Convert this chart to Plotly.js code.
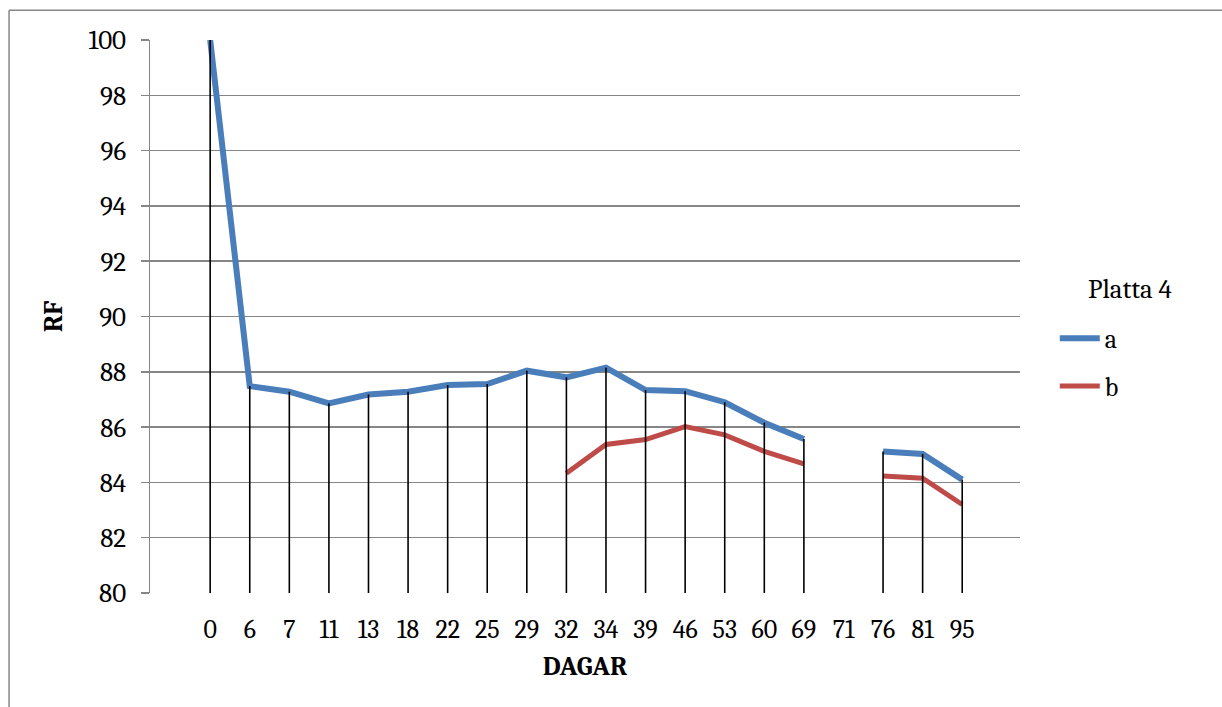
<!DOCTYPE html>
<html>
<head>
<meta charset="utf-8">
<script src="https://cdn.plot.ly/plotly-3.0.1.min.js"></script>
<style>
  html, body { margin: 0; padding: 0; background: #ffffff; }
  #chart { width: 1222px; height: 707px; }
</style>
</head>
<body>
<div id="chart"></div>
<script>
const days = ["0","6","7","11","13","18","22","25","29","32","34","39","46","53","60","69","71","76","81","95"];
const seriesA = [100, 87.48, 87.28, 86.86, 87.18, 87.28, 87.52, 87.56, 88.04, 87.8, 88.15, 87.34, 87.3, 86.9, 86.16, 85.57, null, 85.12, 85.03, 84.1];
const seriesB = [null, null, null, null, null, null, null, null, null, 84.33, 85.37, 85.55, 86.02, 85.72, 85.12, 84.67, null, 84.23, 84.15, 83.2];
const seriesNames = ["a", "b"];
const legendTitle = "Platta 4";
const xTitle = "DAGAR";
const yTitle = "RF";
const yMin = 80, yMax = 100;

const FONT = "Cambria, 'Liberation Serif', 'DejaVu Serif', serif";

// Drop lines: from axis minimum up to the highest value at each category
const dropX = [], dropY = [];
days.forEach((d, i) => {
  const vals = [seriesA[i], seriesB[i]].filter(v => v !== null);
  if (vals.length) {
    dropX.push(d, d, null);
    dropY.push(yMin, Math.max(...vals), null);
  }
});

const traces = [
  {
    x: days, y: seriesA, name: seriesNames[0], legendgroup: "ga", type: "scatter", mode: "lines",
    line: { color: "#4A7EBB", width: 6 }, connectgaps: false
  },
  {
    x: days, y: seriesB, name: seriesNames[1], legendgroup: "gb", type: "scatter", mode: "lines",
    line: { color: "#BE4B48", width: 5 }, connectgaps: false
  },
  {
    x: dropX, y: dropY, type: "scatter", mode: "lines", showlegend: false,
    hoverinfo: "skip", line: { color: "#000000", width: 1.6 }
  }
];

const layout = {
  width: 1222, height: 707,
  paper_bgcolor: "#ffffff", plot_bgcolor: "#ffffff",
  margin: { l: 150, r: 202, t: 40, b: 114 },
  font: { family: FONT, color: "#000000", size: 24 },
  showlegend: true,
  legend: {
    x: 1.04, xanchor: "left", y: 0.503, yanchor: "top",
    font: { family: FONT, size: 26 },
    tracegroupgap: 11, itemwidth: 40,
    bgcolor: "rgba(0,0,0,0)"
  },
  annotations: [
    { text: legendTitle, xref: "paper", yref: "paper", x: 1.126, y: 0.548,
      xanchor: "center", yanchor: "middle", showarrow: false,
      font: { family: FONT, size: 27, color: "#000000" } }
  ],
  xaxis: {
    type: "category", categoryorder: "array", categoryarray: days,
    range: [-1.52, 20.46],
    showgrid: false, zeroline: false, showline: false,
    ticks: "", ticklabelstandoff: 18,
    tickfont: { family: FONT, size: 26 },
    title: { text: "<b>" + xTitle + "</b>", font: { family: FONT, size: 27 }, standoff: 12 }
  },
  yaxis: {
    range: [yMin, yMax], dtick: 2, tick0: 80,
    showgrid: true, gridcolor: "#868686", gridwidth: 1.5,
    zeroline: false, showline: true, linecolor: "#868686", linewidth: 1.5,
    ticks: "outside", ticklen: 8, tickcolor: "#868686", tickwidth: 1.5,
    ticklabelstandoff: 9,
    tickfont: { family: FONT, size: 27 },
    title: { text: "<b>" + yTitle + "</b>", font: { family: FONT, size: 27 }, standoff: 18 }
  },
  shapes: [
    { type: "line", xref: "paper", yref: "paper", x0: -0.162, x1: 1.25, y0: 1.054, y1: 1.054,
      line: { color: "#868686", width: 1.5 } },
    { type: "line", xref: "paper", yref: "paper", x0: -0.162, x1: -0.162, y0: 1.054, y1: -0.3,
      line: { color: "#868686", width: 1.5 } }
  ]
};

Plotly.newPlot("chart", traces, layout, { displayModeBar: false, staticPlot: true });
</script>
</body>
</html>
